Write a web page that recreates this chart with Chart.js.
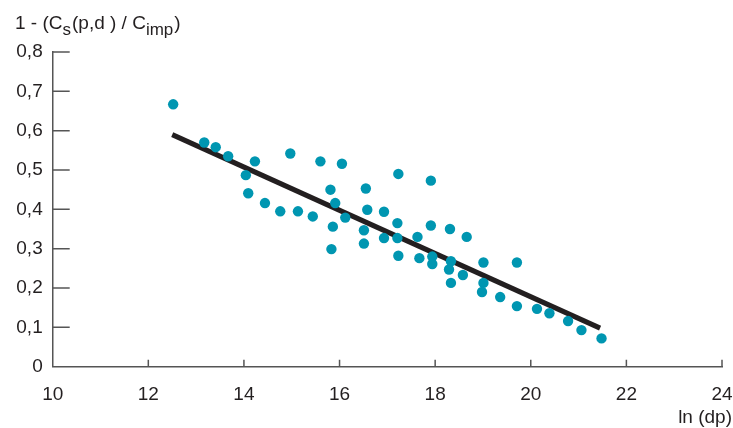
<!DOCTYPE html>
<html>
<head>
<meta charset="utf-8">
<script src="https://cdn.jsdelivr.net/npm/chart.js@4"></script>
<style>
html,body{margin:0;padding:0;background:#fff;}
canvas{display:block;}
</style>
</head>
<body>
<canvas id="c" width="733" height="428"></canvas>
<script>
// ---- data ----
const xValues = [12.52, 13.17, 13.41, 13.67, 14.23, 14.04, 14.09, 14.44, 14.76, 14.97,
  15.13, 15.44, 15.60, 16.05, 15.81, 15.91, 16.12, 15.86, 15.83, 16.55,
  17.23, 17.91, 16.58, 16.93, 17.21, 16.51, 16.93, 17.21, 17.63, 17.91,
  18.31, 18.66, 16.51, 17.23, 17.67, 17.94, 17.94, 18.33, 18.29, 18.58,
  19.01, 18.33, 19.01, 18.98, 19.36, 19.71, 19.71, 20.13, 20.39, 20.78,
  21.06, 21.48];
const yValues = [0.667, 0.570, 0.558, 0.535, 0.522, 0.487, 0.441, 0.416, 0.395, 0.542,
  0.395, 0.382, 0.522, 0.516, 0.450, 0.416, 0.379, 0.356, 0.299, 0.453,
  0.490, 0.473, 0.399, 0.394, 0.365, 0.347, 0.327, 0.327, 0.330, 0.359,
  0.350, 0.330, 0.313, 0.282, 0.276, 0.280, 0.261, 0.268, 0.247, 0.233,
  0.265, 0.213, 0.213, 0.190, 0.177, 0.265, 0.154, 0.147, 0.136, 0.116,
  0.093, 0.072];
const fitX = [12.5, 21.45];
const fitY = [0.590, 0.098];
const xTickLabels = ['10', '12', '14', '16', '18', '20', '22', '24'];
const yTickLabels = ['0', '0,1', '0,2', '0,3', '0,4', '0,5', '0,6', '0,7', '0,8'];
const xAxisTitle = 'ln (dp)';

const FONT = "'Liberation Sans', Arial, Helvetica, sans-serif";
const TEXT = '#231f20';
const AXIS = '#555555';

const scatterPts = xValues.map((x, i) => ({x: x, y: yValues[i]}));
const fitPts = fitX.map((x, i) => ({x: x, y: fitY[i]}));

const decorPlugin = {
  id: 'decor',
  beforeDatasetsDraw(chart) {
    const ctx = chart.ctx;
    const xs = chart.scales.x, ys = chart.scales.y;
    ctx.save();
    ctx.strokeStyle = AXIS;
    ctx.lineWidth = 1.5;
    ctx.beginPath();
    ys.ticks.forEach((t, i) => {
      if (i === 0) return;
      const y = ys.getPixelForValue(t.value);
      ctx.moveTo(xs.left, y);
      ctx.lineTo(xs.left + 17, y);
    });
    xs.ticks.forEach((t, i) => {
      if (i === 0) return;
      const x = xs.getPixelForValue(t.value);
      ctx.moveTo(x, ys.bottom);
      ctx.lineTo(x, ys.bottom - 7);
    });
    ctx.stroke();
    ctx.restore();
  },
  afterDraw(chart) {
    const ctx = chart.ctx;
    const xs = chart.scales.x;
    ctx.save();
    ctx.fillStyle = TEXT;
    ctx.textBaseline = 'alphabetic';
    ctx.textAlign = 'left';
    // header title with subscripts
    const parts = [
      {t: '1 - (C', sub: false},
      {t: 's', sub: true},
      {t: '(p,d ) / C', sub: false},
      {t: 'imp', sub: true},
      {t: ')', sub: false}
    ];
    let x = 15;
    const base = 29;
    parts.forEach(p => {
      ctx.font = (p.sub ? '17px ' : '19px ') + FONT;
      ctx.fillText(p.t, x, p.sub ? base + 6 : base);
      x += ctx.measureText(p.t).width + (p.sub ? 1 : 0);
    });
    // x axis title
    ctx.font = '19px ' + FONT;
    ctx.textAlign = 'right';
    ctx.textBaseline = 'middle';
    ctx.fillText(xAxisTitle, xs.right + 10, 418);
    ctx.restore();
  }
};

new Chart(document.getElementById('c'), {
  type: 'scatter',
  data: {
    datasets: [
      {
        type: 'scatter',
        data: scatterPts,
        backgroundColor: '#0096b1',
        borderWidth: 0,
        pointRadius: 5.2,
        pointHoverRadius: 5.2,
        order: 1
      },
      {
        type: 'line',
        data: fitPts,
        borderColor: '#231f20',
        borderWidth: 5,
        pointRadius: 0,
        fill: false,
        tension: 0,
        order: 2
      }
    ]
  },
  options: {
    responsive: false,
    animation: false,
    devicePixelRatio: 1,
    layout: {padding: {left: 0, top: 52, right: 11, bottom: 0}},
    plugins: {legend: {display: false}, tooltip: {enabled: false}, title: {display: false}},
    scales: {
      x: {
        type: 'linear',
        min: 10, max: 24,
        afterFit: s => { s.height = 61.3; s.paddingLeft = 0; s.paddingRight = 0; },
        ticks: {
          stepSize: 2,
          autoSkip: false,
          maxRotation: 0,
          padding: 17,
          color: TEXT,
          font: {family: FONT, size: 19},
          callback: (v, i) => xTickLabels[i]
        },
        grid: {display: true, drawOnChartArea: false, drawTicks: false},
        border: {display: true, color: AXIS, width: 1.5}
      },
      y: {
        type: 'linear',
        min: 0, max: 0.8,
        afterFit: s => { s.width = 52.7; s.paddingTop = 0; s.paddingBottom = 0; },
        ticks: {
          stepSize: 0.1,
          autoSkip: false,
          padding: 10,
          color: TEXT,
          font: {family: FONT, size: 19},
          callback: (v, i) => yTickLabels[i]
        },
        grid: {display: true, drawOnChartArea: false, drawTicks: false},
        border: {display: true, color: AXIS, width: 1.5}
      }
    }
  },
  plugins: [decorPlugin]
});
</script>
</body>
</html>
